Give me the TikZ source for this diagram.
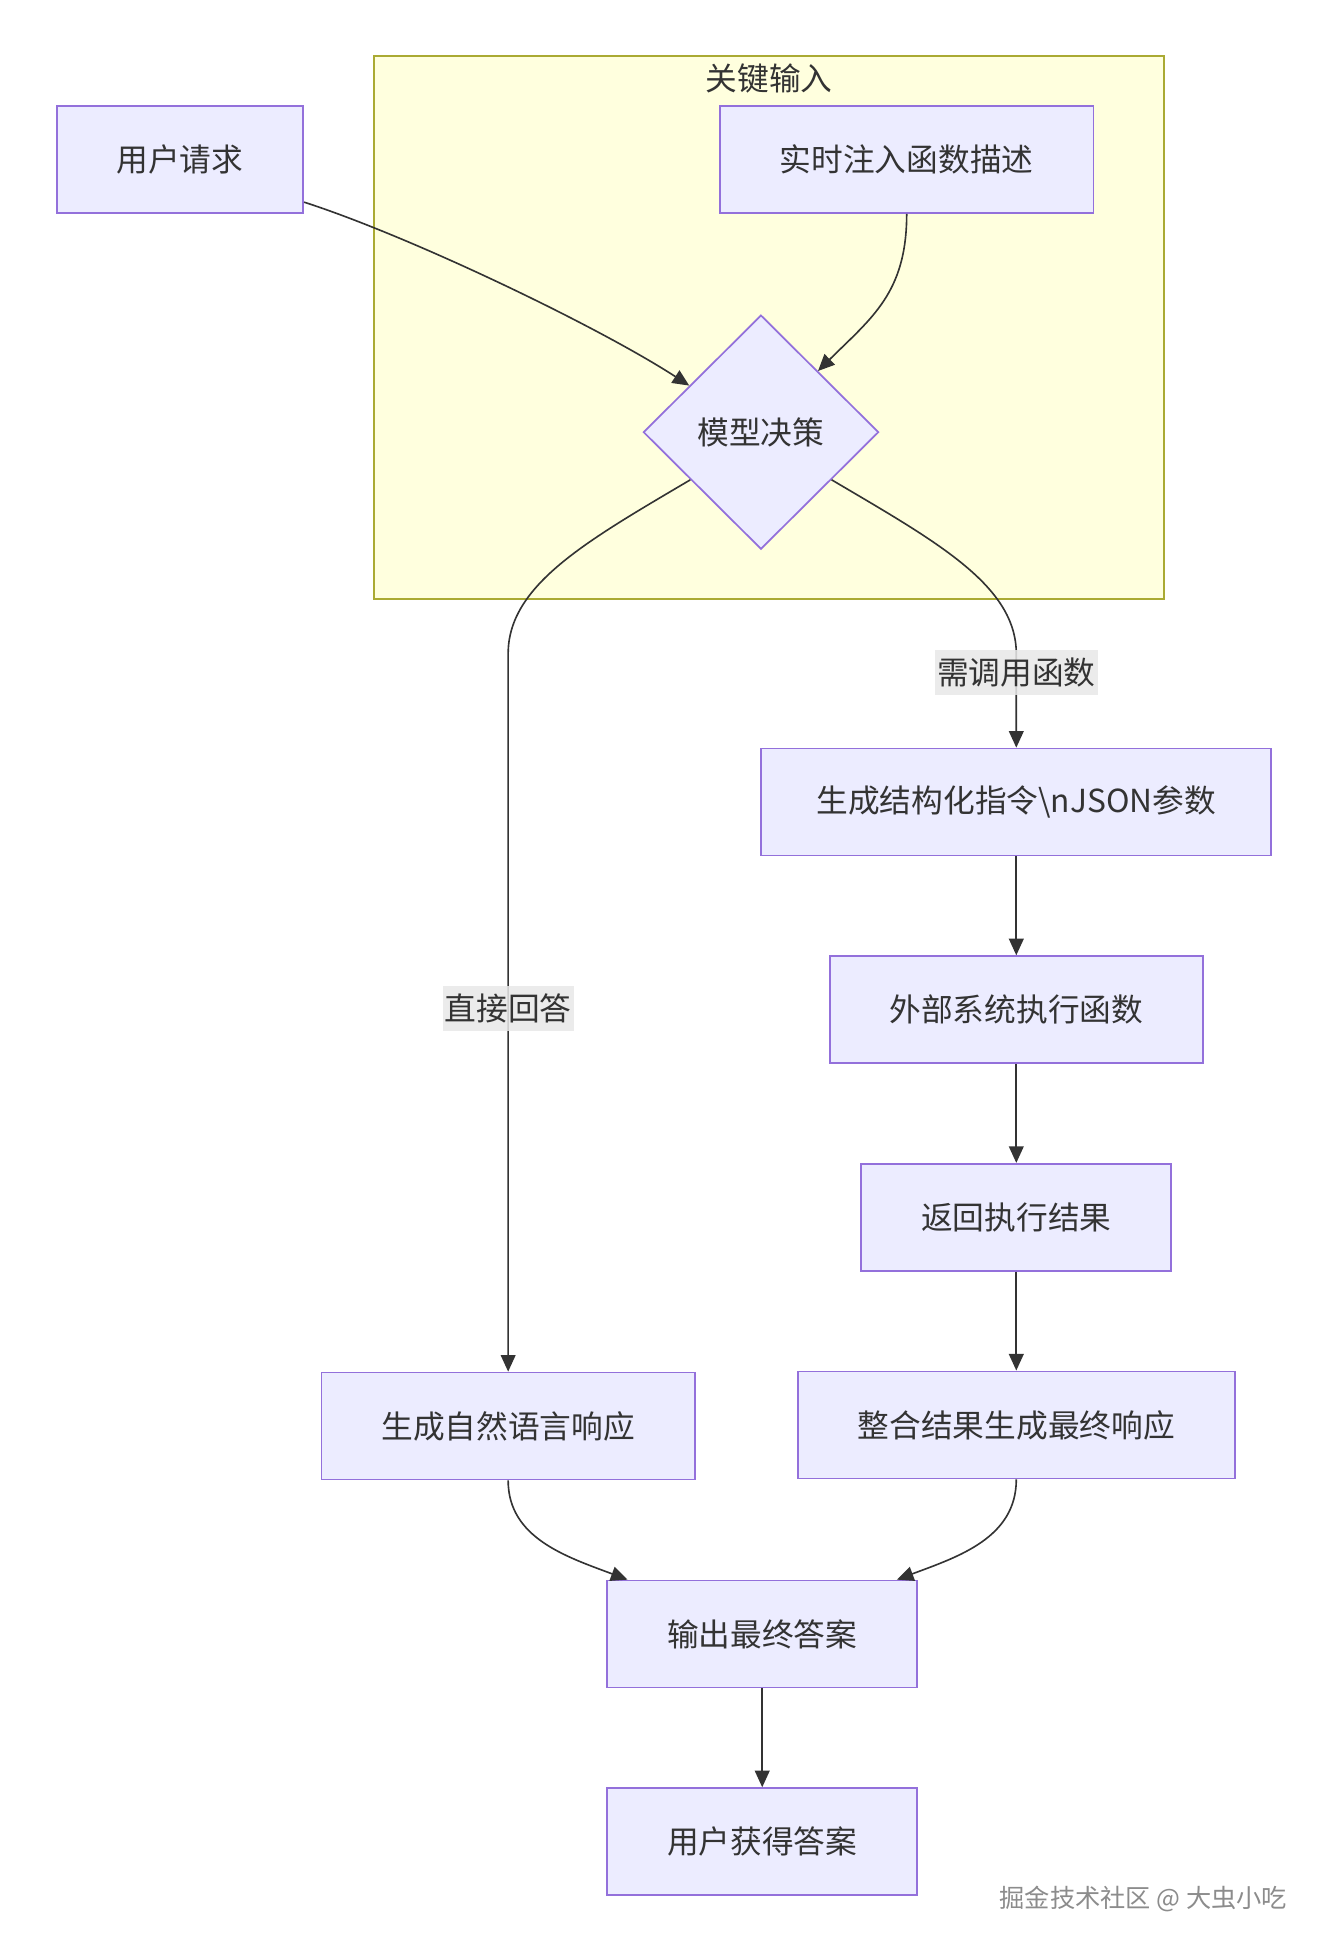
\documentclass[tikz,border=0pt]{standalone}
\usepackage{fontspec}
\setmainfont{Noto Sans CJK SC}
\usetikzlibrary{positioning, shapes.geometric, arrows.meta, calc}
\definecolor{nodefill}{HTML}{ECECFF}
\definecolor{nodeline}{HTML}{9370DB}
\definecolor{keyfill}{HTML}{FFFFDE}
\definecolor{keyline}{HTML}{AAAA33}
\definecolor{ink}{HTML}{333333}
\definecolor{labelbg}{HTML}{E8E8E8}
\newcommand{\boxfont}{\fontsize{14.7pt}{17.5pt}\selectfont}

\begin{document}
\begin{tikzpicture}[x=0.02029cm, y=-0.02029cm, node distance=1.61cm,
  box/.style={draw=nodeline, fill=nodefill, line width=0.8pt, minimum height=1.745cm, inner xsep=0.975cm, text=ink, font=\boxfont},
  choice/.style={diamond, aspect=1, draw=nodeline, fill=nodefill, line width=0.8pt, minimum width=3.835cm, minimum height=3.815cm, inner sep=0pt, text=ink, font=\boxfont},
  cluster/.style={draw=keyline, fill=keyfill, line width=0.8pt},
  flow/.style={draw=ink, line width=0.75pt, -{Triangle[length=0.27cm, width=0.24cm]}},
  lbl/.style={fill=labelbg, fill opacity=0.85, text opacity=1, inner xsep=1pt, inner ysep=3.5pt, text=ink, font=\boxfont}]
  \useasboundingbox[fill=white] (0,0) rectangle (1064.6,1567.3);

  % key input group
  \node[cluster, minimum width=12.88cm, minimum height=8.85cm] (keyin) at (617.5,263) {};
  \node[text=ink, font=\boxfont, inner sep=0pt] (keytitle) at ($(keyin.north)+(0,19)$) {关键输入};

  \node[box] (req) at (144.5,128) {用户请求};
  \node[box] (inj) at (728,128) {实时注入函数描述};
  \node[choice] (dec) at (611,347) {模型决策};

  % function call branch
  \node[box, inner xsep=0.9cm] (fn) at (816,644) {生成结构化指令\textbackslash nJSON参数};
  \node[box] (exec) [below=of fn] {外部系统执行函数};
  \node[box] (ret) [below=of exec] {返回执行结果};
  \node[box] (merge) [below=of ret] {整合结果生成最终响应};

  % direct answer branch
  \node[box] (nat) at (408,1145) {生成自然语言响应};

  \node[box] (out) at (612,1312) {输出最终答案};
  \node[box] (got) [below=of out] {用户获得答案};

  \draw[flow] (req.-19) .. controls (330,190) and (480,262) .. (dec.147);
  \draw[flow] (inj.south) .. controls (728,235) and (700,255) .. (dec.47);
  \draw[flow] (dec.214) .. controls (470,435) and (408,470) .. (408,525)
    -- node[lbl, pos=0.494] (lbldirect) {直接回答} (nat.north);
  \draw[flow] (dec.326) .. controls (752,435) and (816,470) .. (816,525)
    -- node[lbl, pos=0.2] (lblcall) {需调用函数} (fn.north);
  \draw[flow] (fn) -- (exec);
  \draw[flow] (exec) -- (ret);
  \draw[flow] (ret) -- (merge);
  \draw[flow] (nat.south) .. controls (408,1235) and (455,1250) .. (out.158);
  \draw[flow] (merge.south) .. controls (816,1235) and (769,1250) .. (out.22);
  \draw[flow] (out) -- (got);

  \node[text=black!45, font=\fontsize{11.7pt}{13pt}\selectfont] (mark) at (918,1525) {掘金技术社区 @ 大虫小吃};
\end{tikzpicture}
\end{document}
